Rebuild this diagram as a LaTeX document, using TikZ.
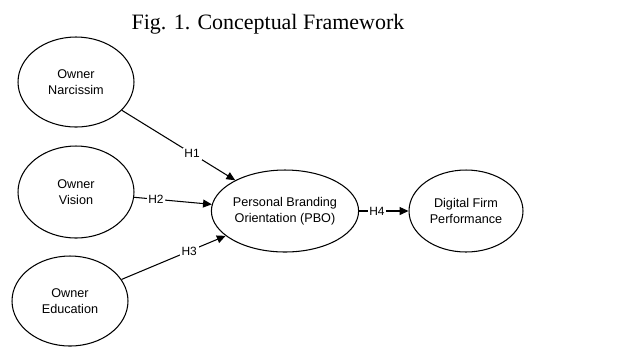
\documentclass[tikz,border=0pt]{standalone}
\usepackage{fontspec}
\setmainfont{Liberation Serif}
\setsansfont{Liberation Sans}
\usetikzlibrary{shapes.geometric,arrows.meta}

\begin{document}
\begin{tikzpicture}[x=0.02cm, y=-0.02cm,
    construct/.style={draw, ellipse, line width=0.6pt, inner sep=0pt, minimum width=2.32cm, minimum height=1.8cm, align=center, font=\sffamily\fontsize{7.2}{9.4}\selectfont},
    hyp/.style={-{Triangle[length=5pt, width=4.5pt]}, line width=0.6pt},
    hlabel/.style={fill=white, inner sep=1pt, font=\sffamily\fontsize{6.8}{7}\selectfont}
]
\useasboundingbox (0,0) rectangle (628,346);
\node[font=\fontsize{12.5}{14}\selectfont] (title) at (268,24) {Fig. 1. Conceptual Framework};

\node[construct] (narc) at (76,82) {Owner\\Narcissim};
\node[construct, minimum height=1.84cm] (vision) at (76,192) {Owner\\Vision};
\node[construct] (edu) at (70,301) {Owner\\Education};
\node[construct, minimum height=1.64cm] (pbo) at (285,211) {Personal Branding\\Orientation (PBO)};
\node[construct, minimum width=2.28cm, minimum height=1.64cm] (dfp) at (466,211) {Digital Firm\\Performance};

\draw[hyp] (narc) -- node[hlabel, pos=0.62] {H1} (pbo);
\draw[hyp] (vision) -- node[hlabel, pos=0.28] {H2} (pbo);
\draw[hyp] (edu) -- node[hlabel, pos=0.65] {H3} (pbo);
\draw[hyp] (pbo) -- node[hlabel, pos=0.36] {H4} (dfp);
\end{tikzpicture}
\end{document}
